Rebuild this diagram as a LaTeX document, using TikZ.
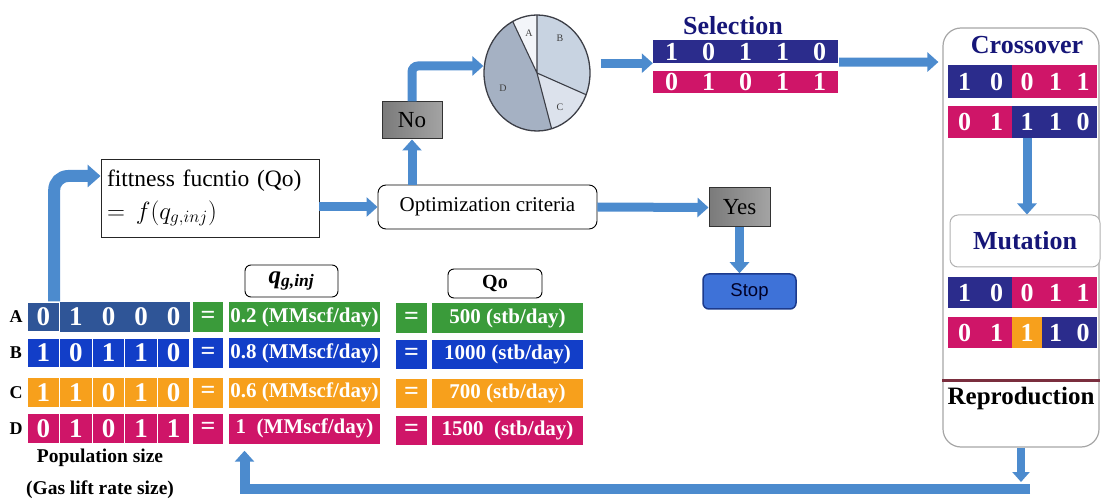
\documentclass[tikz,border=0pt]{standalone}
\usepackage{fontspec}
\setmainfont{Liberation Serif}
\newfontfamily\sansfam{Liberation Sans}
\usepackage{amsmath}
\usetikzlibrary{arrows.meta,calc,shapes.geometric}

\definecolor{popA}{RGB}{47,85,151}
\definecolor{grn}{RGB}{58,155,58}
\definecolor{popB}{RGB}{18,62,200}
\definecolor{org}{RGB}{247,160,28}
\definecolor{mag}{RGB}{207,21,104}
\definecolor{navy}{RGB}{43,44,140}
\definecolor{navytxt}{RGB}{22,22,120}
\definecolor{arrowblue}{RGB}{76,139,206}
\definecolor{pieA}{RGB}{243,245,249}
\definecolor{pieB}{RGB}{200,211,225}
\definecolor{pieC}{RGB}{220,226,236}
\definecolor{pieD}{RGB}{165,177,195}
\definecolor{pieedge}{RGB}{60,62,70}
\definecolor{stopblue}{RGB}{62,114,216}
\definecolor{stopedge}{RGB}{28,58,140}
\definecolor{divred}{RGB}{122,46,62}

\newcommand\px[2]{\fontsize{#1pt}{#2pt}\selectfont}

\tikzset{
  bit/.style={rectangle, inner sep=0pt, minimum height=30pt, minimum width=32.6pt,
    text=white, font=\bfseries\px{27}{30}},
  eqcell/.style={rectangle, inner sep=0pt, minimum height=30pt, minimum width=30pt,
    text=white, font=\bfseries\px{26}{30}},
  valcell/.style={rectangle, inner sep=0pt, minimum height=30pt, minimum width=151pt,
    text=white, font=\bfseries\px{21}{24}},
  selbit/.style={rectangle, inner sep=0pt, minimum width=37pt,
    text=white, font=\bfseries\px{26}{28}},
  gabit/.style={rectangle, inner sep=0pt, text=white, font=\bfseries\px{26}{28}},
  rowlabel/.style={font=\bfseries\px{18}{20}},
  headbox/.style={draw=black, line width=0.9pt, rounded corners=6pt, fill=white, inner sep=0pt},
  graybox/.style={draw=black!80, line width=1pt, left color=black!52, right color=black!36,
    inner sep=0pt, font=\px{23}{26}},
  fatarrow/.style={draw=arrowblue, line width=9pt, -{Triangle[width=19pt,length=11pt]}},
  steptitle/.style={text=navytxt, font=\bfseries\px{26}{28}},
  pielabel/.style={font=\px{10}{12}, text=black!75},
}

\begin{document}
\begin{tikzpicture}[x=1pt,y=-1pt]
\useasboundingbox (0,0) rectangle (1102,502);

% ---------- population table ----------
\node[rowlabel] (la) at (16,317) {A};
\node[rowlabel] (lb) at (16,353) {B};
\node[rowlabel] (lc) at (16,392.5) {C};
\node[rowlabel] (ld) at (16,428.5) {D};

% row A: first gene in its own cell, the other four share one block
\node[bit, fill=popA] (a2) at ({27+32.6*1.5},317) {1};
\node[bit, fill=popA] (a3) at ({27+32.6*2.5},317) {0};
\node[bit, fill=popA] (a4) at ({27+32.6*3.5},317) {0};
\node[bit, fill=popA] (a5) at ({27+32.6*4.5},317) {0};
\node[bit, fill=popA, draw=white, line width=1.2pt] (a1) at ({27+32.6*0.5},317) {0};
\foreach \b [count=\i] in {1,0,1,1,0}
  \node[bit, fill=popB, draw=white, line width=1.2pt] (b\i) at ({27+32.6*(\i-0.5)},353) {\b};
\foreach \b [count=\i] in {1,1,0,1,0}
  \node[bit, fill=org, draw=white, line width=1.2pt] (c\i) at ({27+32.6*(\i-0.5)},392.5) {\b};
\foreach \b [count=\i] in {0,1,0,1,1}
  \node[bit, fill=mag, draw=white, line width=1.2pt] (d\i) at ({27+32.6*(\i-0.5)},428.5) {\b};

% equals signs and injection rates
\node[eqcell, fill=grn]  (ea) at (208,317) {=};
\node[eqcell, fill=popB] (eb) at (208,353) {=};
\node[eqcell, fill=org]  (ec) at (208,392.5) {=};
\node[eqcell, fill=mag]  (ed) at (208,428.5) {=};
\node[valcell, fill=grn]  (qa) at (304.5,317) {0.2 (MMscf/day)};
\node[valcell, fill=popB] (qb) at (304.5,353) {0.8 (MMscf/day)};
\node[valcell, fill=org]  (qc) at (304.5,392.5) {0.6 (MMscf/day)};
\node[valcell, fill=mag]  (qd) at (304.5,428.5) {1\ \ (MMscf/day)};

% equals signs and oil rates
\node[eqcell, fill=grn,  minimum height=29pt, minimum width=31pt] (fa) at (411.5,318) {=};
\node[eqcell, fill=popB, minimum height=29pt, minimum width=31pt] (fb) at (411.5,354.5) {=};
\node[eqcell, fill=org,  minimum height=29pt, minimum width=31pt] (fc) at (411.5,393.5) {=};
\node[eqcell, fill=mag,  minimum height=29pt, minimum width=31pt] (fd) at (411.5,430.5) {=};
\node[valcell, fill=grn,  minimum height=29pt] (oa) at (507.5,318) {500 (stb/day)};
\node[valcell, fill=popB, minimum height=29pt] (ob) at (507.5,354.5) {1000 (stb/day)};
\node[valcell, fill=org,  minimum height=29pt] (oc) at (507.5,393.5) {700 (stb/day)};
\node[valcell, fill=mag,  minimum height=29pt] (od) at (507.5,430.5) {1500\ \ (stb/day)};

% column headers
\node[headbox, minimum width=93pt, minimum height=32pt] (qhead) at (291.5,281)
  {\bfseries\itshape\px{25}{28}q\textsubscript{g,inj}};
\node[headbox, minimum width=94pt, minimum height=29pt] (ohead) at (495,283.5)
  {\bfseries\px{20}{24}Qo};

\node[font=\bfseries\px{19.5}{22}] (popsize) at (100,458) {Population size};
\node[font=\bfseries\px{19.5}{22}] (gassize) at (100,490) {(Gas lift rate size)};

% ---------- evaluation ----------
\node[draw=black!85, line width=0.9pt, minimum width=218pt, minimum height=78pt,
      inner sep=0pt, text width=206pt, align=left, font=\px{23.5}{33}] (fit) at (210,198)
  {fittness fucntio (Qo)\\ $=\,f(q_{g,inj})$};

\node[draw=black, line width=0.9pt, rounded corners=8pt, minimum width=219pt,
      minimum height=44pt, inner sep=0pt, font=\px{21}{24}] (opt) at (487.5,207)
  {Optimization criteria};

\node[graybox, minimum width=60pt, minimum height=37pt] (no) at (412,120.5) {No};
\node[graybox, minimum width=61pt, minimum height=39pt] (yes) at (739.5,207.5) {Yes};
\node[draw=stopedge, line width=1.5pt, fill=stopblue, rounded corners=6pt,
      minimum width=93pt, minimum height=35pt, inner sep=0pt,
      font=\sansfam\px{18.5}{22}, text=black!85!blue] (stop) at (749.5,291.5) {Stop};

% ---------- roulette wheel ----------
\begin{scope}[shift={(537,73)}]
  \fill[pieB] (0,0) -- plot[variable=\t, domain=-90:22, samples=40] ({53*cos(\t)},{58*sin(\t)}) -- cycle;
  \fill[pieC] (0,0) -- plot[variable=\t, domain=22:74, samples=20] ({53*cos(\t)},{58*sin(\t)}) -- cycle;
  \fill[pieD] (0,0) -- plot[variable=\t, domain=74:242.7, samples=50] ({53*cos(\t)},{58*sin(\t)}) -- cycle;
  \fill[pieA] (0,0) -- plot[variable=\t, domain=242.7:270, samples=12] ({53*cos(\t)},{58*sin(\t)}) -- cycle;
  \draw[pieedge, line width=1.1pt]
    ({53*cos(-90)},{58*sin(-90)}) -- (0,0) -- ({53*cos(22)},{58*sin(22)})
    (0,0) -- ({53*cos(74)},{58*sin(74)})
    (0,0) -- ({53*cos(242.7)},{58*sin(242.7)});
\end{scope}
\node[ellipse, draw=pieedge, line width=1.3pt, minimum width=106pt, minimum height=116pt,
      inner sep=0pt] (pie) at (537,73) {};
\node[pielabel] (pa) at (529,33) {A};
\node[pielabel] (pb) at (560,38) {B};
\node[pielabel] (pc) at (560,107) {C};
\node[pielabel] (pd) at (503,88) {D};

% ---------- selection ----------
\node[steptitle] (seltitle) at (733,26) {Selection};
\foreach \b [count=\i] in {1,0,1,1,0}
  \node[selbit, fill=navy, minimum height=23pt] (s\i) at ({653+37*(\i-0.5)},51.5) {\b};
\foreach \b [count=\i] in {0,1,0,1,1}
  \node[selbit, fill=mag, minimum height=22pt] (t\i) at ({653+37*(\i-0.5)},82) {\b};

% ---------- crossover / mutation panel ----------
\node[draw=black!35, line width=1.2pt, rounded corners=18pt, minimum width=156pt,
      minimum height=419pt, inner sep=0pt] (panel) at (1021,237.5) {};
\node[steptitle] (xtitle) at (1027,45) {Crossover};

\foreach \x/\w/\b/\c [count=\i] in {964.5/33/1/navy, 996.5/31/0/navy, 1027/30/0/mag, 1055.5/27/1/mag, 1083/28/1/mag}
  \node[gabit, fill=\c, minimum width=\w pt, minimum height=33pt] (x1\i) at (\x,81.5) {\b};
\foreach \x/\w/\b/\c [count=\i] in {964.5/33/0/mag, 996.5/31/1/mag, 1027/30/1/navy, 1055.5/27/1/navy, 1083/28/0/navy}
  \node[gabit, fill=\c, minimum width=\w pt, minimum height=32pt] (x2\i) at (\x,122) {\b};

\node[draw=black!30, line width=1pt, rounded corners=8pt, fill=white, minimum width=150pt,
      minimum height=52pt, inner sep=0pt, steptitle] (mut) at (1025,241) {Mutation};

\foreach \x/\w/\b/\c [count=\i] in {964.5/33/1/navy, 996.5/31/0/navy, 1027/30/0/mag, 1055.5/27/1/mag, 1083/28/1/mag}
  \node[gabit, fill=\c, minimum width=\w pt, minimum height=31pt] (m1\i) at (\x,292.5) {\b};
\foreach \x/\w/\b/\c [count=\i] in {964.5/33/0/mag, 996.5/31/1/mag, 1027/30/1/org, 1055.5/27/1/navy, 1083/28/0/navy}
  \node[gabit, fill=\c, minimum width=\w pt, minimum height=31pt] (m2\i) at (\x,332.5) {\b};

\draw[divred, line width=3pt] (panel.west |- 0,380) -- (panel.east |- 0,380);
\node[font=\bfseries\px{25}{28}] (repro) at (1021,398) {Reproduction};

% ---------- connectors ----------
\draw[fatarrow, line width=12pt, -{Triangle[width=22pt,length=13pt]}, rounded corners=14pt]
  ($(a1.north east)+(-6,0)$) |- ($(fit.west)+(0,-22)$);
\draw[fatarrow] (fit.east |- opt.west) -- (opt.west);
\draw[fatarrow] (opt.east) -- (yes.west);
\draw[fatarrow] (yes.south) -- (yes.south |- stop.north);
\draw[fatarrow] (no.south |- opt.north) -- (no.south);
\draw[fatarrow, rounded corners=6pt] (no.north) |- ($(pie.west)+(0,-7)$);
\coordinate (pieR) at ($(pie.east)+(10,0)$);
\draw[fatarrow] (pieR |- s1.south west) -- (s1.south west);
\draw[fatarrow, shorten >=4pt] ($(s5.south east)+(1,-1)$) -- (panel.west |- 0,62);
\draw[fatarrow] (x23.south) -- (x23.south |- mut.north);

\coordinate (downtip) at (1021,482);
\coordinate (barR) at (1030,489);
\draw[fatarrow, line width=8pt, -{Triangle[width=17pt,length=10pt]}] (panel.south) -- (downtip);
\draw[fatarrow, line width=10pt, shorten >=7pt] (barR) -| ($(qd.south)+(-60,0)$);
\end{tikzpicture}
\end{document}
